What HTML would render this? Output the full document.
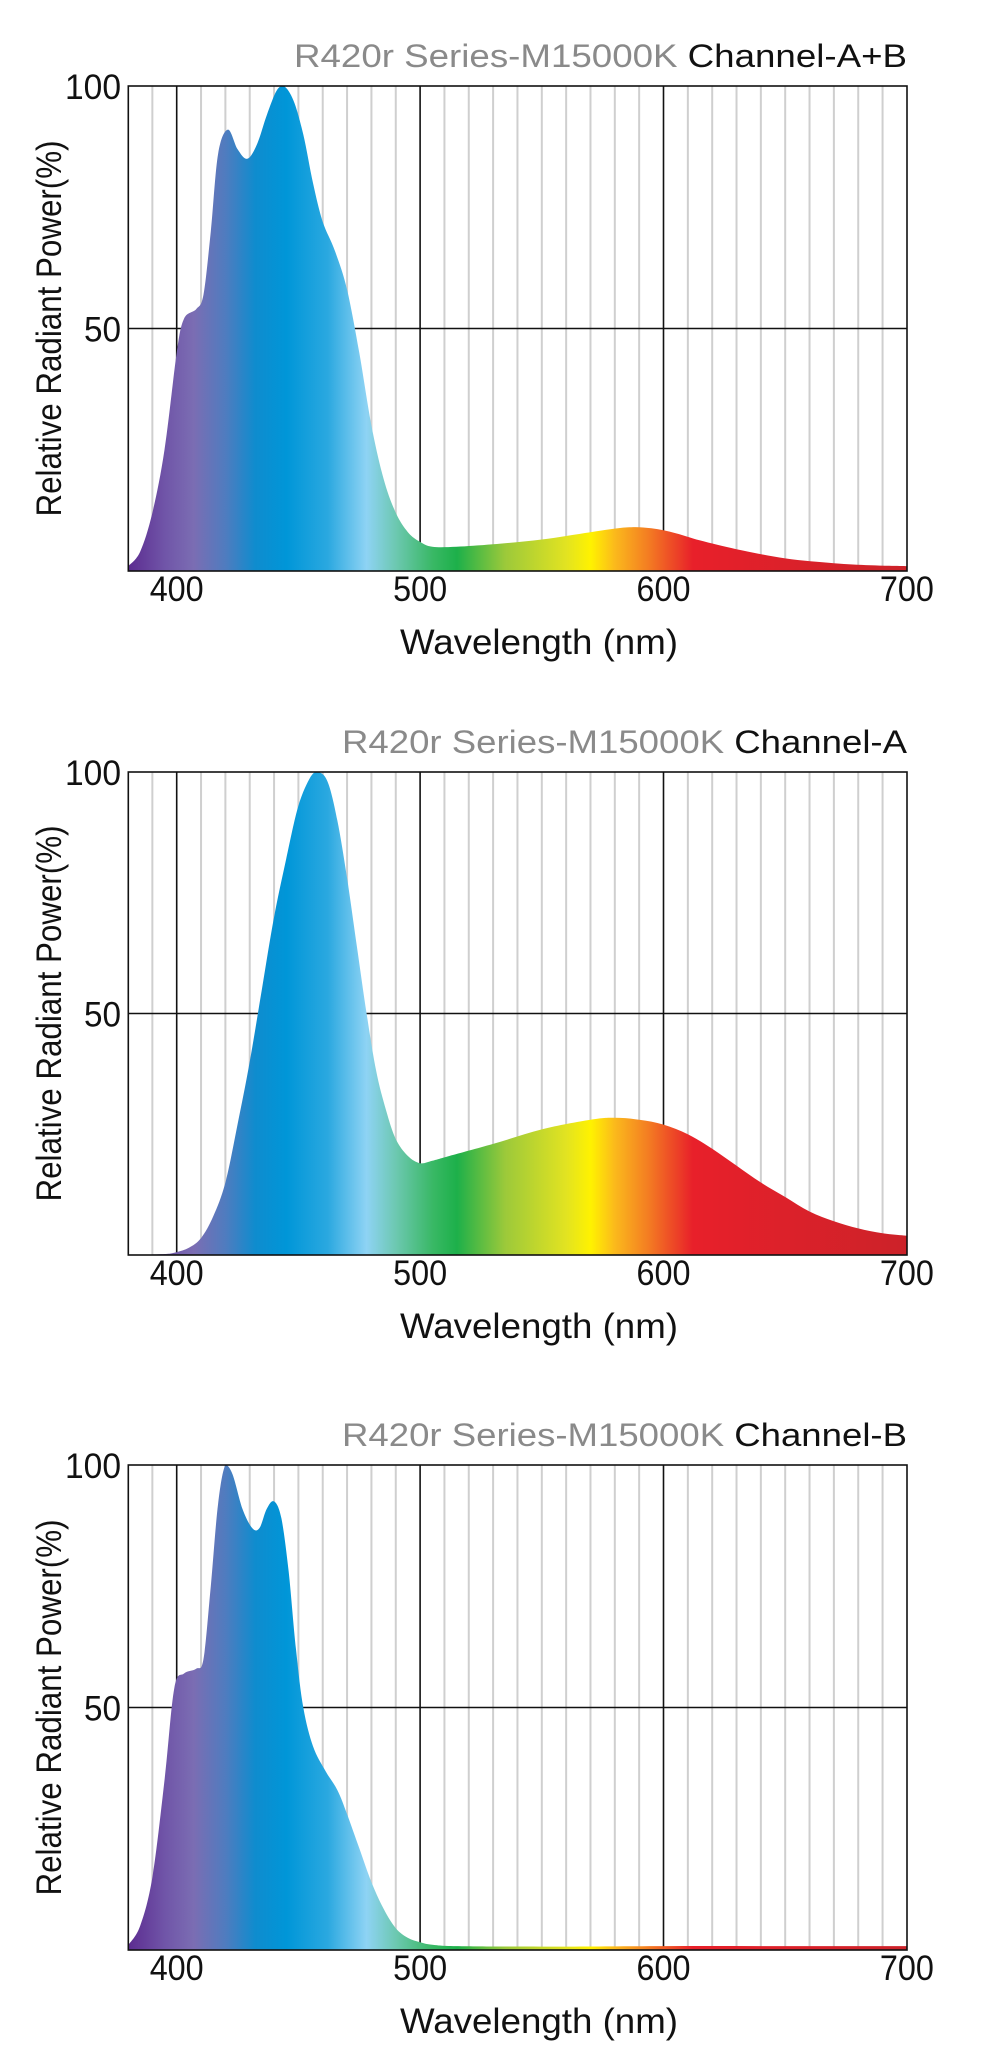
<!DOCTYPE html>
<html><head><meta charset="utf-8"><style>
html,body{margin:0;padding:0;background:#fff;width:983px;height:2048px;overflow:hidden}
svg{display:block}
text{font-family:"Liberation Sans",Arial,sans-serif}
</style></head><body>
<svg id="s" width="983" height="2048" viewBox="0 0 983 2048" xmlns="http://www.w3.org/2000/svg">
<defs>
<linearGradient id="g" gradientUnits="userSpaceOnUse" x1="128.3" y1="0" x2="907" y2="0">
<stop offset="0" stop-color="#5c2c90"/>
<stop offset="0.047" stop-color="#7055a8"/>
<stop offset="0.084" stop-color="#7b6db3"/>
<stop offset="0.125" stop-color="#4f7cbf"/>
<stop offset="0.163" stop-color="#0f8cce"/>
<stop offset="0.203" stop-color="#0096d8"/>
<stop offset="0.256" stop-color="#2aa8e0"/>
<stop offset="0.306" stop-color="#8ed3f4"/>
<stop offset="0.344" stop-color="#6cc8b0"/>
<stop offset="0.391" stop-color="#39b865"/>
<stop offset="0.422" stop-color="#1db04a"/>
<stop offset="0.484" stop-color="#9cc93a"/>
<stop offset="0.5625" stop-color="#e2e321"/>
<stop offset="0.594" stop-color="#fff200"/>
<stop offset="0.625" stop-color="#fbb91c"/>
<stop offset="0.666" stop-color="#f47f22"/>
<stop offset="0.725" stop-color="#e8202a"/>
<stop offset="1" stop-color="#cc2229"/>
</linearGradient>
</defs>
</svg>
<script>
var NS="http://www.w3.org/2000/svg",s=document.getElementById('s');
function el(t,a,txt){var e=document.createElementNS(NS,t);for(var k in a)e.setAttribute(k,a[k]);if(txt!=null)e.textContent=txt;s.appendChild(e);return e;}
function X(w){return 176.7+(w-400)*2.434;}
var data=[
[[380,1],[385,4],[390,12],[395,25],[400,45],[403,52],[408,54],[411,57],[414,70],[417,86],[421,91],[425,87],[429,85],[433,88],[437,94],[441,99],[444,100],[448,97],[452,90],[456,80],[460,72],[465,66],[470,58],[475,45],[480,30],[485,19],[490,12],[495,8],[500,6],[505,5],[515,5],[530,5.5],[550,6.5],[570,8],[585,9],[595,8.8],[605,7.8],[615,6.3],[630,4.5],[650,2.6],[670,1.6],[685,1.2],[700,1.0]],
[[380,0],[395,0.2],[400,0.6],[405,1.5],[410,3.5],[415,8],[420,15],[425,27],[430,40],[435,55],[440,70],[445,82],[450,93],[455,99],[458,100],[462,98],[466,90],[470,78],[474,64],[478,50],[482,38],[486,30],[490,24],[495,20.5],[500,19],[505,19.5],[512,20.5],[530,23],[550,26],[570,28],[580,28.4],[590,28],[600,27],[610,25],[620,22],[630,18.5],[640,15],[650,12],[660,9],[670,7],[680,5.5],[690,4.5],[700,4]],
[[380,1],[385,5],[390,15],[395,35],[399,54],[403,57],[408,58],[411,60],[414,75],[417,92],[420,100],[423,98],[427,91],[431,87],[434,87],[437,91],[440,92.5],[443,89],[446,78],[449,62],[452,50],[456,42],[461,37],[466,33],[470,28],[475,21],[480,14],[485,8.5],[490,4.5],[495,2.5],[500,1.6],[505,1.1],[515,0.8],[550,0.7],[600,0.8],[650,0.8],[700,0.8]]
];
var tops=[86,772,1465],bots=[571,1255,1950];
var titles=["Channel-A+B","Channel-A","Channel-B"];
var titleW=[613,565,565];
for(var p=0;p<3;p++){
 var T=tops[p],B=bots[p],H=B-T,L=128.3,R=907;
 for(var w=390;w<700;w+=10){ if(w%100==0)continue; el('line',{x1:X(w),x2:X(w),y1:T,y2:B,stroke:'#cfcfcf','stroke-width':2});}
 [400,500,600].forEach(function(w){el('line',{x1:X(w),x2:X(w),y1:T,y2:B,stroke:'#111','stroke-width':1.6});});
 el('line',{x1:L,x2:R,y1:(T+B)/2,y2:(T+B)/2,stroke:'#111','stroke-width':1.6});
 var pts=data[p].map(function(d){return [X(d[0]),B-d[1]/100*H];});
 pts[0][0]=L; pts[pts.length-1][0]=R;
 var d='M'+L+','+B+' L'+pts[0][0]+','+pts[0][1];
 for(var i=0;i<pts.length-1;i++){
  var p0=pts[Math.max(0,i-1)],p1=pts[i],p2=pts[i+1],p3=pts[Math.min(pts.length-1,i+2)];
  var c1x=p1[0]+(p2[0]-p0[0])/6,c1y=p1[1]+(p2[1]-p0[1])/6,c2x=p2[0]-(p3[0]-p1[0])/6,c2y=p2[1]-(p3[1]-p1[1])/6;
  c1y=Math.max(T,Math.min(c1y,B));c2y=Math.max(T,Math.min(c2y,B));
  d+=' C'+c1x.toFixed(1)+','+c1y.toFixed(1)+' '+c2x.toFixed(1)+','+c2y.toFixed(1)+' '+p2[0].toFixed(1)+','+p2[1].toFixed(1);
 }
 d+=' L'+R+','+B+' Z';
 el('path',{d:d,fill:'url(#g)'});
 el('rect',{x:L,y:T,width:R-L,height:H,fill:'none',stroke:'#111','stroke-width':1.6});
 el('text',{x:121,y:T+13,'font-size':35,'text-anchor':'end',fill:'#111',textLength:56,lengthAdjust:'spacingAndGlyphs'},'100');
 el('text',{x:121,y:(T+B)/2+13,'font-size':35,'text-anchor':'end',fill:'#111',textLength:37,lengthAdjust:'spacingAndGlyphs'},'50');
 [400,500,600,700].forEach(function(w){el('text',{x:X(w),y:B+30,'font-size':35,'text-anchor':'middle',fill:'#111',textLength:54,lengthAdjust:'spacingAndGlyphs'},String(w));});
 el('text',{x:539,y:B+83,'font-size':35,'text-anchor':'middle',fill:'#111',textLength:278,lengthAdjust:'spacingAndGlyphs'},'Wavelength (nm)');
 var yc=(T+B)/2;
 el('text',{x:0,y:0,'font-size':35,'text-anchor':'middle',fill:'#111',textLength:376,lengthAdjust:'spacingAndGlyphs',transform:'translate(61,'+yc+') rotate(-90)'},'Relative Radiant Power(%)');
 var t=el('text',{x:907,y:T-19,'font-size':32,'text-anchor':'end',fill:'#111',textLength:titleW[p],lengthAdjust:'spacingAndGlyphs'});
 var a=document.createElementNS(NS,'tspan');a.setAttribute('fill','#8a8a8a');a.textContent='R420r Series-M15000K ';t.appendChild(a);
 var b=document.createElementNS(NS,'tspan');b.setAttribute('fill','#111');b.textContent=titles[p];t.appendChild(b);
}
</script>
</body></html>
